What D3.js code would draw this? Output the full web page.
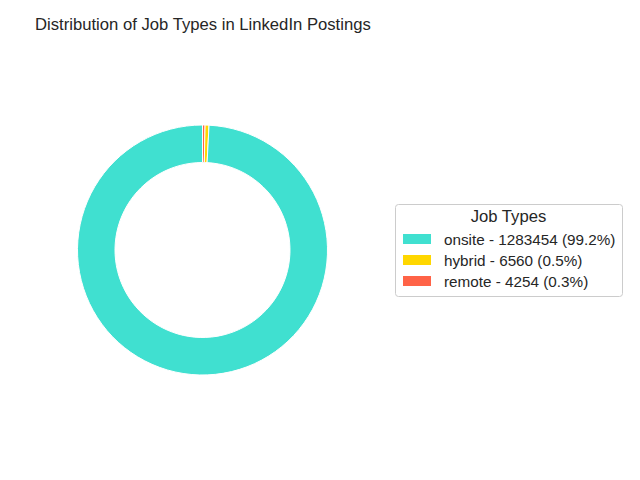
<!DOCTYPE html>
<html><head><meta charset="utf-8">
<script src="https://cdn.jsdelivr.net/npm/d3@7"></script>
<style>body{margin:0;background:#fff}</style>
</head><body>
<svg id="c" width="640" height="480"></svg>
<script>
const categories = ["onsite", "hybrid", "remote"];
const counts = [1283454, 6560, 4254];
const colors = ["#40E0D0", "#FFD700", "#FF6347"];
const titleText = "Distribution of Job Types in LinkedIn Postings";
const legendTitle = "Job Types";

const svg = d3.select("#c");
const font = "'Liberation Sans', Arial, sans-serif";
const total = d3.sum(counts);
const data = categories.map((c, i) => ({cat: c, val: counts[i], color: colors[i]}));

svg.append("text").attr("x", 35).attr("y", 30).attr("font-family", font)
  .attr("font-size", 16.67).attr("fill", "#262626").text(titleText);

const cx = 202.5, cy = 250, R = 125;
// matplotlib counterclock from top: onsite first going counterclockwise => in d3 (clockwise) reverse order
const pie = d3.pie().sort(null).value(d => d.val).startAngle(0).endAngle(2 * Math.PI);
const arcs = pie(data.slice().reverse());
const arc = d3.arc().innerRadius(R * 0.7).outerRadius(R);
svg.append("g").attr("transform", `translate(${cx},${cy})`)
  .selectAll("path").data(arcs).join("path")
  .attr("d", arc).attr("fill", d => d.data.color)
  .attr("stroke", "#fff").attr("stroke-width", 1);

// legend
const lg = svg.append("g");
lg.append("rect").attr("x", 395.5).attr("y", 204.5).attr("width", 227).attr("height", 92)
  .attr("rx", 3).attr("fill", "#fff").attr("stroke", "#cccccc").attr("stroke-width", 1);
lg.append("text").attr("x", 508.5).attr("y", 222).attr("text-anchor", "middle")
  .attr("font-family", font).attr("font-size", 16.67).attr("fill", "#262626").text(legendTitle);
data.forEach((d, i) => {
  const y = 239 + i * 21;
  lg.append("rect").attr("x", 403).attr("y", y - 5).attr("width", 28).attr("height", 10).attr("fill", d.color);
  lg.append("text").attr("x", 444).attr("y", y + 5.5).attr("font-family", font)
    .attr("font-size", 15.28).attr("fill", "#262626")
    .text(`${d.cat} - ${d.val} (${(d.val / total * 100).toFixed(1)}%)`);
});
</script>
</body></html>
